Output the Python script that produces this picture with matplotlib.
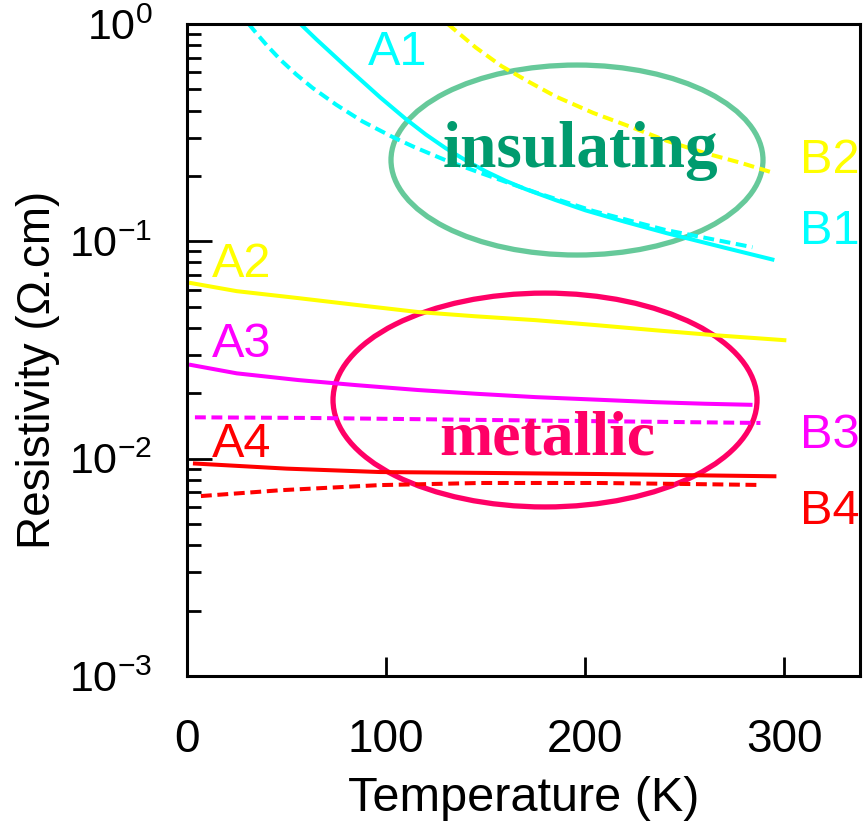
#======================================================================
# Resistivity vs temperature for the A/B film series (log scale)
#======================================================================
import matplotlib
matplotlib.use('Agg')
import matplotlib.pyplot as plt
import matplotlib.ticker as ticker
from matplotlib.patches import Ellipse
import numpy as np

plt.rcParams['font.family'] = ['Liberation Sans', 'DejaVu Sans']
plt.rcParams['mathtext.fontset'] = 'custom'
plt.rcParams['mathtext.rm'] = 'Liberation Sans'

#--------------------------------------------------------------------------
# Measured curves (T in K, resistivity in Ohm.cm)
#--------------------------------------------------------------------------
A1_T = [57, 65, 80, 97, 110, 120, 130, 140, 150, 160, 170, 185, 200, 220, 241, 270, 294]
A1_R = [1.0, 0.85, 0.635, 0.46, 0.365, 0.31, 0.268, 0.236, 0.21, 0.19, 0.174, 0.155,
        0.139, 0.123, 0.109, 0.0935, 0.0825]

B1_T = [31, 35, 40, 47, 55, 63, 75, 88, 103, 114, 130, 149, 175, 204, 240, 284]
B1_R = [1.0, 0.904, 0.80, 0.684, 0.585, 0.509, 0.425, 0.357, 0.303, 0.272, 0.236,
        0.204, 0.168, 0.138, 0.113, 0.094]

B2_T = [131, 145, 158, 172, 185, 204, 223, 241, 260, 278, 295]
B2_R = [1.0, 0.78, 0.64, 0.54, 0.465, 0.39, 0.336, 0.29, 0.255, 0.23, 0.206]

A2_T = [2, 25, 56, 85, 116, 145, 175, 205, 235, 265, 300]
A2_R = [0.0643, 0.059, 0.0548, 0.051, 0.0473, 0.0452, 0.0434, 0.0412, 0.039, 0.037, 0.0351]

A3_T = [2, 25, 56, 85, 116, 145, 175, 205, 235, 260, 283]
A3_R = [0.027, 0.0247, 0.023, 0.0218, 0.0207, 0.0199, 0.0192, 0.0187, 0.0182, 0.0179, 0.0177]

B3_T = [4, 60, 116, 170, 230, 288]
B3_R = [0.0155, 0.0154, 0.0152, 0.0150, 0.0148, 0.0146]

A4_T = [4, 50, 97, 150, 207, 250, 295]
A4_R = [0.0095, 0.0090, 0.00868, 0.0086, 0.0085, 0.0084, 0.0083]

B4_T = [7, 47, 97, 147, 207, 250, 288]
B4_R = [0.00673, 0.00716, 0.00756, 0.00773, 0.00773, 0.00765, 0.00757]

x_ticks = [0, 100, 200, 300]

#--------------------------------------------------------------------------
#                  Plotting Logic
#--------------------------------------------------------------------------
fig = plt.figure(figsize=(8.68, 8.23), dpi=100)
ax = fig.add_axes([0.2154, 0.1786, 0.7754, 0.7922])

lw = 2.9
dash = (0, (2.7, 1.4))
ax.plot(A1_T, A1_R, color='#00FFFF', lw=lw)
ax.plot(B1_T, B1_R, color='#00FFFF', lw=lw, ls=dash)
ax.plot(B2_T, B2_R, color='#FFFF00', lw=lw, ls=dash)
ax.plot(A2_T, A2_R, color='#FFFF00', lw=lw)
ax.plot(A3_T, A3_R, color='#FF00FF', lw=lw)
ax.plot(B3_T, B3_R, color='#FF00FF', lw=lw, ls=dash)
ax.plot(A4_T, A4_R, color='#FF0000', lw=lw)
ax.plot(B4_T, B4_R, color='#FF0000', lw=lw, ls=dash)

ax.set_yscale('log')
ax.set_xlim(0, 338)
ax.set_ylim(1e-3, 1)

#------------------ curve labels -------------------------------------------
lab_fs = 35
ax.text(106, 0.743, 'A1', color='#00FFFF', fontsize=lab_fs, ha='center', va='center')
ax.text(322.6, 0.2366, 'B2', color='#FFFF00', fontsize=lab_fs, ha='center', va='center')
ax.text(322.6, 0.1115, 'B1', color='#00FFFF', fontsize=lab_fs, ha='center', va='center')
ax.text(27.6, 0.0786, 'A2', color='#FFFF00', fontsize=lab_fs, ha='center', va='center')
ax.text(27.6, 0.0337, 'A3', color='#FF00FF', fontsize=lab_fs, ha='center', va='center')
ax.text(322.6, 0.01285, 'B3', color='#FF00FF', fontsize=lab_fs, ha='center', va='center')
ax.text(27.6, 0.01167, 'A4', color='#FF0000', fontsize=lab_fs, ha='center', va='center')
ax.text(322.6, 0.00574, 'B4', color='#FF0000', fontsize=lab_fs, ha='center', va='center')

#------------------ regime markers -----------------------------------------
ax.add_patch(Ellipse((0.5795, 0.7914), 0.5527, 0.2914, transform=ax.transAxes,
                     fill=False, edgecolor='#66C99A', lw=3.8))
ax.add_patch(Ellipse((0.532, 0.4233), 0.63, 0.328, transform=ax.transAxes,
                     fill=False, edgecolor='#FF0066', lw=3.8))
ax.text(0.584, 0.781, 'insulating', transform=ax.transAxes, color='#009B6E',
        fontsize=47, fontweight='bold', family='Liberation Serif', ha='center', va='baseline')
ax.text(0.535, 0.339, 'metallic', transform=ax.transAxes, color='#FF0066',
        fontsize=46, fontweight='bold', family='Liberation Serif', ha='center', va='baseline')

#------------------ axes styling -------------------------------------------
ax.set_xticks(x_ticks)
ax.yaxis.set_major_formatter(ticker.FuncFormatter(
    lambda v, p: r'$\mathregular{10^{%d}}$' % round(np.log10(v))))
ax.tick_params(axis='both', which='both', direction='in', top=False, right=False, width=2)
ax.tick_params(axis='x', which='major', length=14, pad=30, labelsize=33)
ax.tick_params(axis='y', which='major', length=18, pad=25, labelsize=31)
ax.tick_params(axis='y', which='minor', length=10)
for s in ax.spines.values():
    s.set_linewidth(2.2)

ax.set_xlabel('Temperature (K)', fontsize=35, labelpad=10)
ax.set_ylabel('Resistivity (Ω.cm)', fontsize=33)
ax.yaxis.set_label_coords(-0.188, 0.469)

fig.savefig('out.png', dpi=100)
